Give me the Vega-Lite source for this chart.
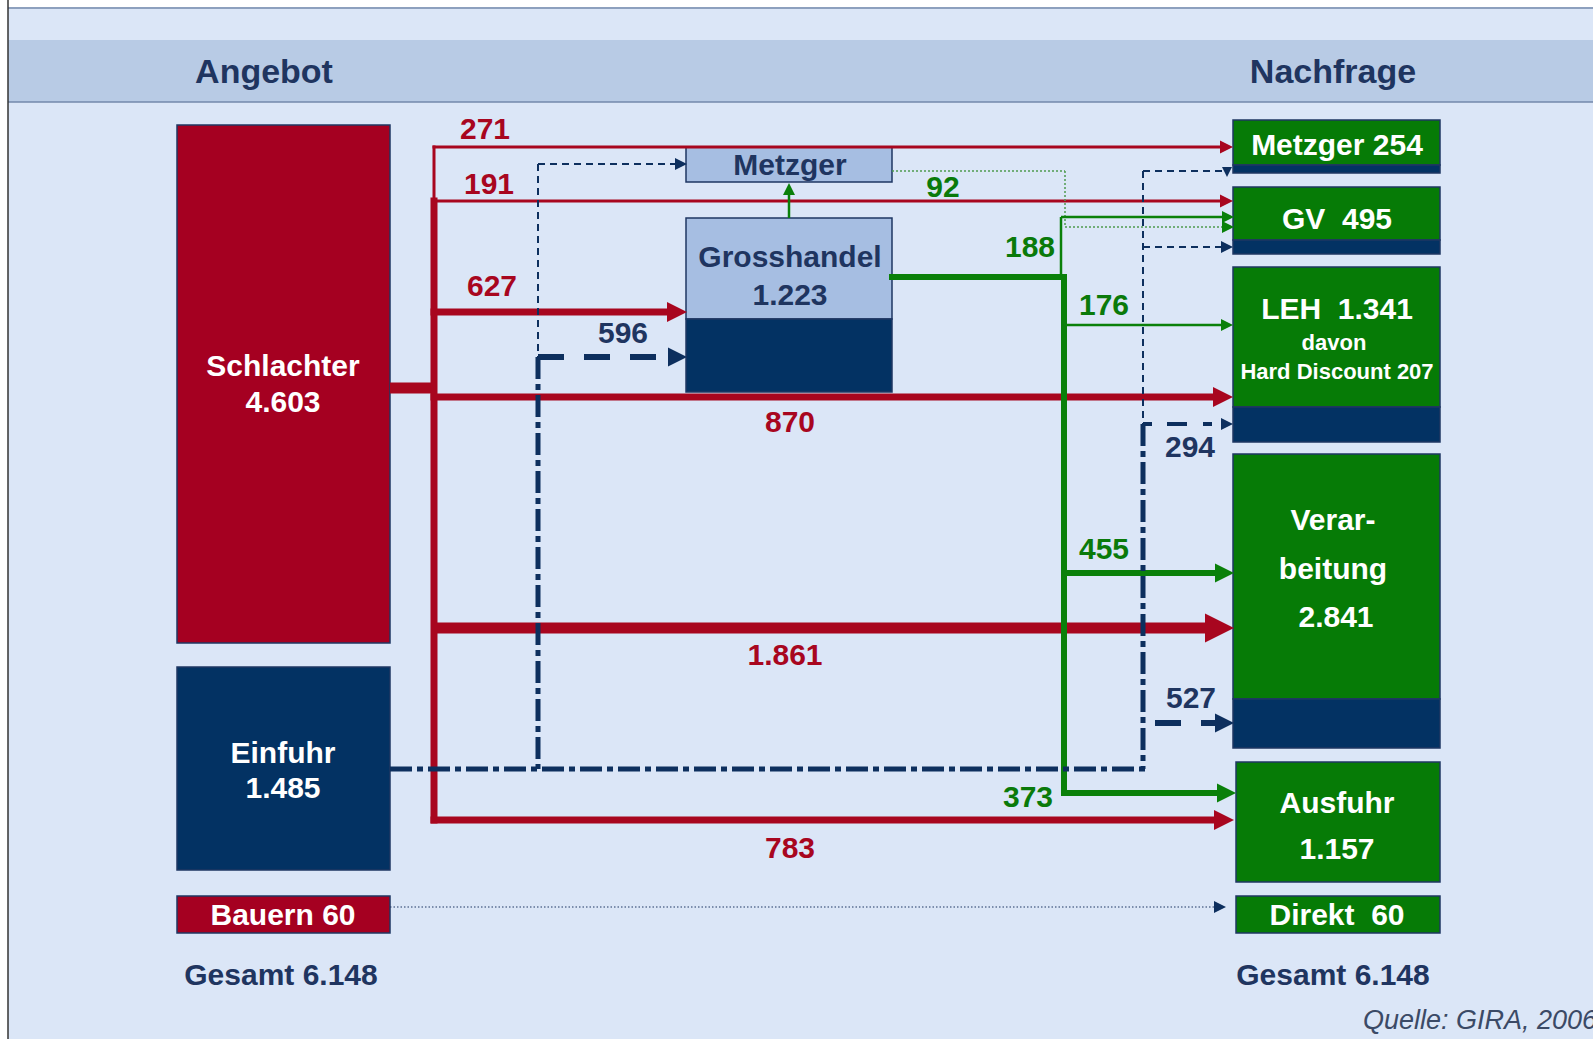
{
  "$schema": "https://vega.github.io/schema/vega-lite/v6.json",
  "width": 1593,
  "height": 1039,
  "padding": 0,
  "autosize": {"type": "none"},
  "background": "#dbe6f7",
  "config": {"view": {"stroke": null}, "text": {"font": "Liberation Sans"}},
  "datasets": {
    "rand": [{"x": 0, "x2": 1593, "y": 0, "y2": 7}, {"x": 0, "x2": 8, "y": 0, "y2": 1039}],
    "kopf": [{"x": 8, "x2": 1593, "y": 40, "y2": 102}],
    "linien": [
      {"x": 8, "x2": 1593, "y": 8, "y2": 8},
      {"x": 8, "x2": 1593, "y": 102, "y2": 102}
    ],
    "kante": [{"x": 8, "x2": 8, "y": 0, "y2": 1039}],
    "boxes": [
      {"name": "Schlachter", "kind": "Schlachter", "x": 177, "x2": 390, "y": 125, "y2": 643},
      {"name": "Einfuhr", "kind": "Einfuhr", "x": 177, "x2": 390, "y": 667, "y2": 870},
      {"name": "Bauern", "kind": "Schlachter", "x": 177, "x2": 390, "y": 896, "y2": 933},
      {"name": "Metzger", "kind": "Handel", "x": 686, "x2": 892, "y": 147, "y2": 182},
      {"name": "Grosshandel", "kind": "Handel", "x": 686, "x2": 892, "y": 218, "y2": 319},
      {"name": "Grosshandel Einfuhr", "kind": "Einfuhr", "x": 686, "x2": 892, "y": 319, "y2": 392},
      {"name": "Metzger 254", "kind": "Nachfrage", "x": 1233, "x2": 1440, "y": 120, "y2": 165},
      {"name": "Metzger 254 Einfuhr", "kind": "Einfuhr", "x": 1233, "x2": 1440, "y": 165, "y2": 173},
      {"name": "GV", "kind": "Nachfrage", "x": 1233, "x2": 1440, "y": 187, "y2": 240},
      {"name": "GV Einfuhr", "kind": "Einfuhr", "x": 1233, "x2": 1440, "y": 240, "y2": 254},
      {"name": "LEH", "kind": "Nachfrage", "x": 1233, "x2": 1440, "y": 267, "y2": 407},
      {"name": "LEH Einfuhr", "kind": "Einfuhr", "x": 1233, "x2": 1440, "y": 407, "y2": 442},
      {"name": "Verarbeitung", "kind": "Nachfrage", "x": 1233, "x2": 1440, "y": 454, "y2": 699},
      {"name": "Verarbeitung Einfuhr", "kind": "Einfuhr", "x": 1233, "x2": 1440, "y": 699, "y2": 748},
      {"name": "Ausfuhr", "kind": "Nachfrage", "x": 1236, "x2": 1440, "y": 762, "y2": 882},
      {"name": "Direkt", "kind": "Nachfrage", "x": 1236, "x2": 1440, "y": 896, "y2": 933}
    ],
    "redThin": [
      {"flow": "271", "x": 434, "x2": 1222, "y": 147, "y2": 147},
      {"flow": "191", "x": 434, "x2": 1222, "y": 201, "y2": 201},
      {"flow": "Stamm", "x": 434, "x2": 434, "y": 147, "y2": 201}
    ],
    "redMid": [
      {"flow": "Stamm", "x": 434, "x2": 434, "y": 201, "y2": 820},
      {"flow": "627", "x": 434, "x2": 672, "y": 312, "y2": 312},
      {"flow": "870", "x": 434, "x2": 1216, "y": 397, "y2": 397},
      {"flow": "783", "x": 434, "x2": 1218, "y": 820, "y2": 820}
    ],
    "redHeavy": [
      {"flow": "1.861", "x": 434, "x2": 1210, "y": 628, "y2": 628},
      {"flow": "Schlachter", "x": 390, "x2": 434, "y": 388, "y2": 388}
    ],
    "redHeadS": [{"x": 1233, "y": 147}, {"x": 1233, "y": 201}],
    "redHeadM": [{"x": 687, "y": 312}, {"x": 1233, "y": 397}, {"x": 1234, "y": 820}],
    "redHeadL": [{"x": 1234, "y": 628}],
    "greenThin": [
      {"x": 789, "x2": 789, "y": 218, "y2": 192},
      {"x": 1061, "x2": 1061, "y": 277, "y2": 217},
      {"x": 1061, "x2": 1224, "y": 217, "y2": 217},
      {"x": 1064, "x2": 1222, "y": 325, "y2": 325}
    ],
    "greenMid": [
      {"x": 892, "x2": 1064, "y": 277, "y2": 277},
      {"x": 1064, "x2": 1064, "y": 277, "y2": 793},
      {"x": 1064, "x2": 1220, "y": 573, "y2": 573},
      {"x": 1064, "x2": 1220, "y": 793, "y2": 793}
    ],
    "greenDotted": [
      {"x": 892, "x2": 1065, "y": 171, "y2": 171},
      {"x": 1065, "x2": 1065, "y": 171, "y2": 227},
      {"x": 1065, "x2": 1226, "y": 227, "y2": 227}
    ],
    "greenHeadS": [{"x": 1234, "y": 217}, {"x": 1234, "y": 227}, {"x": 1233, "y": 325}],
    "greenHeadM": [{"x": 1234, "y": 573}, {"x": 1236, "y": 793}],
    "greenUp": [{"x": 789, "y": 183}],
    "navyThin": [
      {"x": 538, "x2": 538, "y": 164, "y2": 357},
      {"x": 538, "x2": 676, "y": 164, "y2": 164},
      {"x": 1143, "x2": 1143, "y": 171, "y2": 424},
      {"x": 1143, "x2": 1222, "y": 171, "y2": 171},
      {"x": 1143, "x2": 1224, "y": 247, "y2": 247}
    ],
    "navyDashDot": [
      {"x": 538, "x2": 538, "y": 357, "y2": 769},
      {"x": 1143, "x2": 1143, "y": 424, "y2": 769},
      {"x": 390, "x2": 1146, "y": 769, "y2": 769}
    ],
    "navyDashed": [
      {"x": 538, "x2": 672, "y": 357, "y2": 357},
      {"x": 1155, "x2": 1218, "y": 723, "y2": 723}
    ],
    "navyDashed294": [
      {"x": 1143, "x2": 1222, "y": 424, "y2": 424}
    ],
    "navyDotted": [{"x": 390, "x2": 1218, "y": 907, "y2": 907}],
    "navyHeadS": [{"x": 687, "y": 164}, {"x": 1233, "y": 247}, {"x": 1233, "y": 424}, {"x": 1226, "y": 907}],
    "navyHeadM": [{"x": 687, "y": 357}, {"x": 1234, "y": 723}],
    "navyDown": [{"x": 1227, "y": 177}],
    "titles": [
      {"label": "Angebot", "x": 264, "y": 83},
      {"label": "Nachfrage", "x": 1333, "y": 83}
    ],
    "whiteBig": [
      {"label": "Schlachter", "x": 283, "y": 376},
      {"label": "4.603", "x": 283, "y": 412},
      {"label": "Einfuhr", "x": 283, "y": 763},
      {"label": "1.485", "x": 283, "y": 798},
      {"label": "Bauern 60", "x": 283, "y": 925},
      {"label": "Metzger 254", "x": 1337, "y": 155},
      {"label": "GV\u00a0 495", "x": 1337, "y": 229},
      {"label": "LEH\u00a0 1.341", "x": 1337, "y": 319},
      {"label": "Verar-", "x": 1333, "y": 530},
      {"label": "beitung", "x": 1333, "y": 579},
      {"label": "2.841", "x": 1336, "y": 627},
      {"label": "Ausfuhr", "x": 1337, "y": 813},
      {"label": "1.157", "x": 1337, "y": 859},
      {"label": "Direkt\u00a0 60", "x": 1337, "y": 925}
    ],
    "whiteSmall": [
      {"label": "davon", "x": 1334, "y": 350},
      {"label": "Hard Discount 207", "x": 1337, "y": 379}
    ],
    "navyBox": [
      {"label": "Metzger", "x": 790, "y": 175},
      {"label": "Grosshandel", "x": 790, "y": 267},
      {"label": "1.223", "x": 790, "y": 305}
    ],
    "redNums": [
      {"label": "271", "x": 485, "y": 139},
      {"label": "191", "x": 489, "y": 194},
      {"label": "627", "x": 492, "y": 296},
      {"label": "870", "x": 790, "y": 432},
      {"label": "1.861", "x": 785, "y": 665},
      {"label": "783", "x": 790, "y": 858}
    ],
    "greenNums": [
      {"label": "92", "x": 943, "y": 197},
      {"label": "188", "x": 1030, "y": 257},
      {"label": "176", "x": 1104, "y": 315},
      {"label": "455", "x": 1104, "y": 559},
      {"label": "373", "x": 1028, "y": 807}
    ],
    "navyNums": [
      {"label": "596", "x": 623, "y": 343},
      {"label": "294", "x": 1190, "y": 457},
      {"label": "527", "x": 1191, "y": 708},
      {"label": "Gesamt 6.148", "x": 281, "y": 985},
      {"label": "Gesamt 6.148", "x": 1333, "y": 985}
    ],
    "source": [{"label": "Quelle: GIRA, 2006", "x": 1363, "y": 1029}]
  },
  "layer": [
    {"data": {"name": "rand"}, "mark": {"type": "rect", "color": "#ffffff"},
     "encoding": {"x": {"field": "x", "type": "quantitative", "scale": {"domain": [0, 1593], "nice": false, "zero": false}, "axis": null}, "x2": {"field": "x2"},
                  "y": {"field": "y", "type": "quantitative", "scale": {"domain": [0, 1039], "nice": false, "zero": false, "reverse": true}, "axis": null}, "y2": {"field": "y2"}}},
    {"data": {"name": "kopf"}, "mark": {"type": "rect", "color": "#b8cbe5"},
     "encoding": {"x": {"field": "x", "type": "quantitative", "axis": null}, "x2": {"field": "x2"}, "y": {"field": "y", "type": "quantitative", "axis": null}, "y2": {"field": "y2"}}},
    {"data": {"name": "linien"}, "mark": {"type": "rule", "color": "#7388ab", "strokeWidth": 1.5},
     "encoding": {"x": {"field": "x", "type": "quantitative", "axis": null}, "x2": {"field": "x2"}, "y": {"field": "y", "type": "quantitative", "axis": null}, "y2": {"field": "y2"}}},
    {"data": {"name": "kante"}, "mark": {"type": "rule", "color": "#333333", "strokeWidth": 1.5},
     "encoding": {"x": {"field": "x", "type": "quantitative", "axis": null}, "x2": {"field": "x2"}, "y": {"field": "y", "type": "quantitative", "axis": null}, "y2": {"field": "y2"}}},
    {"data": {"name": "boxes"}, "mark": {"type": "rect", "stroke": "#1f3763", "strokeWidth": 1.5},
     "encoding": {"x": {"field": "x", "type": "quantitative", "axis": null}, "x2": {"field": "x2"}, "y": {"field": "y", "type": "quantitative", "axis": null}, "y2": {"field": "y2"},
                  "fill": {"field": "kind", "type": "nominal", "legend": null, "scale": {"domain": ["Schlachter", "Einfuhr", "Handel", "Nachfrage"], "range": ["#a50021", "#033263", "#a6bee2", "#067b06"]}}}},
    {"data": {"name": "redThin"}, "mark": {"type": "rule", "color": "#a8061f", "strokeWidth": 3, "strokeCap": "square"},
     "encoding": {"x": {"field": "x", "type": "quantitative", "axis": null}, "x2": {"field": "x2"}, "y": {"field": "y", "type": "quantitative", "axis": null}, "y2": {"field": "y2"}}},
    {"data": {"name": "redMid"}, "mark": {"type": "rule", "color": "#a8061f", "strokeWidth": 7, "strokeCap": "square"},
     "encoding": {"x": {"field": "x", "type": "quantitative", "axis": null}, "x2": {"field": "x2"}, "y": {"field": "y", "type": "quantitative", "axis": null}, "y2": {"field": "y2"}}},
    {"data": {"name": "redHeavy"}, "mark": {"type": "rule", "color": "#a8061f", "strokeWidth": 11},
     "encoding": {"x": {"field": "x", "type": "quantitative", "axis": null}, "x2": {"field": "x2"}, "y": {"field": "y", "type": "quantitative", "axis": null}, "y2": {"field": "y2"}}},
    {"data": {"name": "greenDotted"}, "mark": {"type": "rule", "color": "#4f9a4f", "strokeWidth": 1.5, "strokeDash": [2, 2]},
     "encoding": {"x": {"field": "x", "type": "quantitative", "axis": null}, "x2": {"field": "x2"}, "y": {"field": "y", "type": "quantitative", "axis": null}, "y2": {"field": "y2"}}},
    {"data": {"name": "greenThin"}, "mark": {"type": "rule", "color": "#0a800a", "strokeWidth": 2.5},
     "encoding": {"x": {"field": "x", "type": "quantitative", "axis": null}, "x2": {"field": "x2"}, "y": {"field": "y", "type": "quantitative", "axis": null}, "y2": {"field": "y2"}}},
    {"data": {"name": "greenMid"}, "mark": {"type": "rule", "color": "#0a800a", "strokeWidth": 6, "strokeCap": "square"},
     "encoding": {"x": {"field": "x", "type": "quantitative", "axis": null}, "x2": {"field": "x2"}, "y": {"field": "y", "type": "quantitative", "axis": null}, "y2": {"field": "y2"}}},
    {"data": {"name": "navyThin"}, "mark": {"type": "rule", "color": "#0d2f5e", "strokeWidth": 2, "strokeDash": [7, 5]},
     "encoding": {"x": {"field": "x", "type": "quantitative", "axis": null}, "x2": {"field": "x2"}, "y": {"field": "y", "type": "quantitative", "axis": null}, "y2": {"field": "y2"}}},
    {"data": {"name": "navyDashDot"}, "mark": {"type": "rule", "color": "#0d2f5e", "strokeWidth": 5, "strokeDash": [22, 5, 6, 5]},
     "encoding": {"x": {"field": "x", "type": "quantitative", "axis": null}, "x2": {"field": "x2"}, "y": {"field": "y", "type": "quantitative", "axis": null}, "y2": {"field": "y2"}}},
    {"data": {"name": "navyDashed"}, "mark": {"type": "rule", "color": "#0d2f5e", "strokeWidth": 6, "strokeDash": [26, 20]},
     "encoding": {"x": {"field": "x", "type": "quantitative", "axis": null}, "x2": {"field": "x2"}, "y": {"field": "y", "type": "quantitative", "axis": null}, "y2": {"field": "y2"}}},
    {"data": {"name": "navyDashed294"}, "mark": {"type": "rule", "color": "#0d2f5e", "strokeWidth": 4, "strokeDash": [9, 15, 20, 16]},
     "encoding": {"x": {"field": "x", "type": "quantitative", "axis": null}, "x2": {"field": "x2"}, "y": {"field": "y", "type": "quantitative", "axis": null}, "y2": {"field": "y2"}}},
    {"data": {"name": "navyDotted"}, "mark": {"type": "rule", "color": "#1f3763", "strokeWidth": 1.2, "strokeDash": [1.5, 2]},
     "encoding": {"x": {"field": "x", "type": "quantitative", "axis": null}, "x2": {"field": "x2"}, "y": {"field": "y", "type": "quantitative", "axis": null}, "y2": {"field": "y2"}}},
    {"data": {"name": "redHeadS"}, "mark": {"type": "point", "shape": "M0,0L-2,-1L-2,1Z", "size": 169, "filled": true, "opacity": 1, "color": "#a8061f"},
     "encoding": {"x": {"field": "x", "type": "quantitative", "axis": null}, "y": {"field": "y", "type": "quantitative", "axis": null}}},
    {"data": {"name": "redHeadM"}, "mark": {"type": "point", "shape": "M0,0L-2,-1L-2,1Z", "size": 400, "filled": true, "opacity": 1, "color": "#a8061f"},
     "encoding": {"x": {"field": "x", "type": "quantitative", "axis": null}, "y": {"field": "y", "type": "quantitative", "axis": null}}},
    {"data": {"name": "redHeadL"}, "mark": {"type": "point", "shape": "M0,0L-2,-1L-2,1Z", "size": 841, "filled": true, "opacity": 1, "color": "#a8061f"},
     "encoding": {"x": {"field": "x", "type": "quantitative", "axis": null}, "y": {"field": "y", "type": "quantitative", "axis": null}}},
    {"data": {"name": "greenHeadS"}, "mark": {"type": "point", "shape": "M0,0L-2,-1L-2,1Z", "size": 144, "filled": true, "opacity": 1, "color": "#0a800a"},
     "encoding": {"x": {"field": "x", "type": "quantitative", "axis": null}, "y": {"field": "y", "type": "quantitative", "axis": null}}},
    {"data": {"name": "greenHeadM"}, "mark": {"type": "point", "shape": "M0,0L-2,-1L-2,1Z", "size": 361, "filled": true, "opacity": 1, "color": "#0a800a"},
     "encoding": {"x": {"field": "x", "type": "quantitative", "axis": null}, "y": {"field": "y", "type": "quantitative", "axis": null}}},
    {"data": {"name": "greenUp"}, "mark": {"type": "point", "shape": "M0,0L-1,2L1,2Z", "size": 144, "filled": true, "opacity": 1, "color": "#0a800a"},
     "encoding": {"x": {"field": "x", "type": "quantitative", "axis": null}, "y": {"field": "y", "type": "quantitative", "axis": null}}},
    {"data": {"name": "navyHeadS"}, "mark": {"type": "point", "shape": "M0,0L-2,-1L-2,1Z", "size": 144, "filled": true, "opacity": 1, "color": "#0d2f5e"},
     "encoding": {"x": {"field": "x", "type": "quantitative", "axis": null}, "y": {"field": "y", "type": "quantitative", "axis": null}}},
    {"data": {"name": "navyHeadM"}, "mark": {"type": "point", "shape": "M0,0L-2,-1L-2,1Z", "size": 361, "filled": true, "opacity": 1, "color": "#0d2f5e"},
     "encoding": {"x": {"field": "x", "type": "quantitative", "axis": null}, "y": {"field": "y", "type": "quantitative", "axis": null}}},
    {"data": {"name": "navyDown"}, "mark": {"type": "point", "shape": "M0,0L-1,-2L1,-2Z", "size": 100, "filled": true, "opacity": 1, "color": "#0d2f5e"},
     "encoding": {"x": {"field": "x", "type": "quantitative", "axis": null}, "y": {"field": "y", "type": "quantitative", "axis": null}}},
    {"data": {"name": "titles"}, "mark": {"type": "text", "align": "center", "baseline": "alphabetic", "fontSize": 34, "fontWeight": "bold", "color": "#1f3560"},
     "encoding": {"x": {"field": "x", "type": "quantitative", "axis": null}, "y": {"field": "y", "type": "quantitative", "axis": null}, "text": {"field": "label"}}},
    {"data": {"name": "whiteBig"}, "mark": {"type": "text", "align": "center", "baseline": "alphabetic", "fontSize": 30, "fontWeight": "bold", "color": "#ffffff"},
     "encoding": {"x": {"field": "x", "type": "quantitative", "axis": null}, "y": {"field": "y", "type": "quantitative", "axis": null}, "text": {"field": "label"}}},
    {"data": {"name": "whiteSmall"}, "mark": {"type": "text", "align": "center", "baseline": "alphabetic", "fontSize": 22, "fontWeight": "bold", "color": "#ffffff"},
     "encoding": {"x": {"field": "x", "type": "quantitative", "axis": null}, "y": {"field": "y", "type": "quantitative", "axis": null}, "text": {"field": "label"}}},
    {"data": {"name": "navyBox"}, "mark": {"type": "text", "align": "center", "baseline": "alphabetic", "fontSize": 30, "fontWeight": "bold", "color": "#1f3560"},
     "encoding": {"x": {"field": "x", "type": "quantitative", "axis": null}, "y": {"field": "y", "type": "quantitative", "axis": null}, "text": {"field": "label"}}},
    {"data": {"name": "redNums"}, "mark": {"type": "text", "align": "center", "baseline": "alphabetic", "fontSize": 30, "fontWeight": "bold", "color": "#a8061f"},
     "encoding": {"x": {"field": "x", "type": "quantitative", "axis": null}, "y": {"field": "y", "type": "quantitative", "axis": null}, "text": {"field": "label"}}},
    {"data": {"name": "greenNums"}, "mark": {"type": "text", "align": "center", "baseline": "alphabetic", "fontSize": 30, "fontWeight": "bold", "color": "#0a7a0a"},
     "encoding": {"x": {"field": "x", "type": "quantitative", "axis": null}, "y": {"field": "y", "type": "quantitative", "axis": null}, "text": {"field": "label"}}},
    {"data": {"name": "navyNums"}, "mark": {"type": "text", "align": "center", "baseline": "alphabetic", "fontSize": 30, "fontWeight": "bold", "color": "#1f3560"},
     "encoding": {"x": {"field": "x", "type": "quantitative", "axis": null}, "y": {"field": "y", "type": "quantitative", "axis": null}, "text": {"field": "label"}}},
    {"data": {"name": "source"}, "mark": {"type": "text", "align": "left", "baseline": "alphabetic", "fontSize": 27, "fontStyle": "italic", "color": "#3b4a66"},
     "encoding": {"x": {"field": "x", "type": "quantitative", "axis": null}, "y": {"field": "y", "type": "quantitative", "axis": null}, "text": {"field": "label"}}}
  ]
}
